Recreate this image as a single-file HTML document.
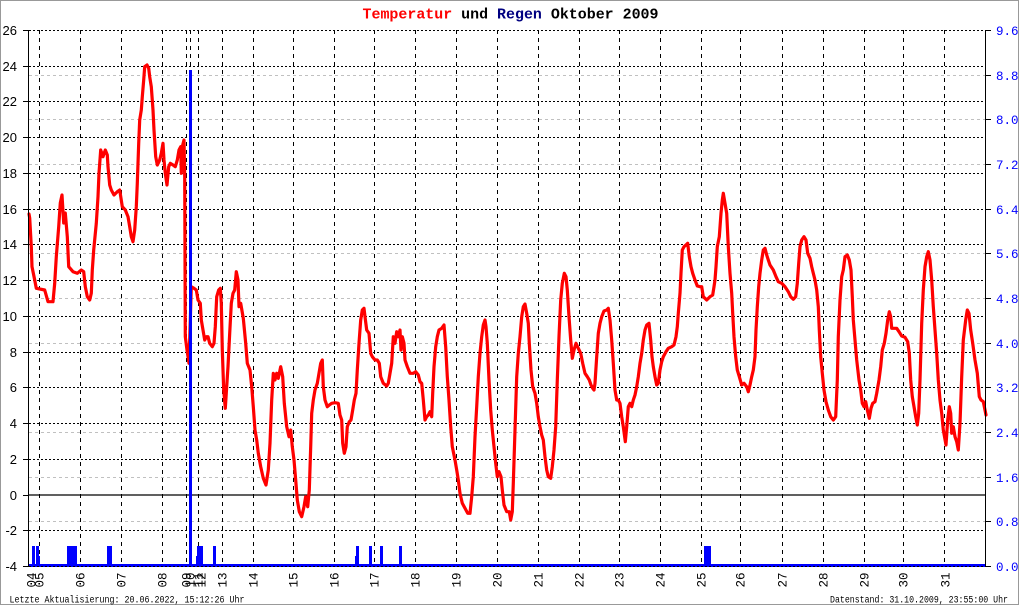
<!DOCTYPE html>
<html>
<head>
<meta charset="utf-8">
<style>
html,body{margin:0;padding:0;background:#fff;width:1020px;height:606px;overflow:hidden}
svg{display:block}
</style>
</head>
<body>
<svg width="1020" height="606" viewBox="0 0 1020 606" xmlns="http://www.w3.org/2000/svg">
<rect x="0" y="0" width="1020" height="606" fill="#fff"/>
<rect x="0.5" y="0.5" width="1018" height="604" fill="none" stroke="#999" stroke-width="1"/>

<!-- title -->
<text x="362.5" y="18.5" font-family="'Liberation Mono', monospace" font-size="15" font-weight="bold" textLength="296" lengthAdjust="spacingAndGlyphs"><tspan fill="#ff0000">Temperatur</tspan><tspan fill="#000"> und </tspan><tspan fill="#000080">Regen</tspan><tspan fill="#000"> Oktober 2009</tspan></text>

<!-- gray dashed (right axis grid) -->
<g stroke="#c0c0c0" stroke-width="1" stroke-dasharray="3,3" shape-rendering="crispEdges">
<line x1="29" x2="985" y1="75.5" y2="75.5"/>
<line x1="29" x2="985" y1="119.5" y2="119.5"/>
<line x1="29" x2="985" y1="164.5" y2="164.5"/>
<line x1="29" x2="985" y1="253.5" y2="253.5"/>
<line x1="29" x2="985" y1="298.5" y2="298.5"/>
<line x1="29" x2="985" y1="343.5" y2="343.5"/>
<line x1="29" x2="985" y1="432.5" y2="432.5"/>
<line x1="29" x2="985" y1="477.5" y2="477.5"/>
<line x1="29" x2="985" y1="521.5" y2="521.5"/>
</g>

<!-- black dotted horizontal grid -->
<g stroke="#000" stroke-width="1" stroke-dasharray="2,2" shape-rendering="crispEdges">
<line x1="29" x2="985" y1="30.5" y2="30.5"/>
<line x1="29" x2="985" y1="66.5" y2="66.5"/>
<line x1="29" x2="985" y1="101.5" y2="101.5"/>
<line x1="29" x2="985" y1="137.5" y2="137.5"/>
<line x1="29" x2="985" y1="173.5" y2="173.5"/>
<line x1="29" x2="985" y1="209.5" y2="209.5"/>
<line x1="29" x2="985" y1="244.5" y2="244.5"/>
<line x1="29" x2="985" y1="280.5" y2="280.5"/>
<line x1="29" x2="985" y1="316.5" y2="316.5"/>
<line x1="29" x2="985" y1="352.5" y2="352.5"/>
<line x1="29" x2="985" y1="387.5" y2="387.5"/>
<line x1="29" x2="985" y1="423.5" y2="423.5"/>
<line x1="29" x2="985" y1="459.5" y2="459.5"/>
<line x1="29" x2="985" y1="530.5" y2="530.5"/>
</g>

<!-- vertical dashed day lines -->
<g stroke="#000" stroke-width="1" stroke-dasharray="4,4" shape-rendering="crispEdges">
<line x1="39.5" x2="39.5" y1="30" y2="566"/>
<line x1="80.5" x2="80.5" y1="30" y2="566"/>
<line x1="121.5" x2="121.5" y1="30" y2="566"/>
<line x1="162.5" x2="162.5" y1="30" y2="566"/>
<line x1="186.5" x2="186.5" y1="30" y2="566"/>
<line x1="190.5" x2="190.5" y1="30" y2="566"/>
<line x1="198.5" x2="198.5" y1="30" y2="566"/>
<line x1="222.5" x2="222.5" y1="30" y2="566"/>
<line x1="253.5" x2="253.5" y1="30" y2="566"/>
<line x1="293.5" x2="293.5" y1="30" y2="566"/>
<line x1="334.5" x2="334.5" y1="30" y2="566"/>
<line x1="374.5" x2="374.5" y1="30" y2="566"/>
<line x1="415.5" x2="415.5" y1="30" y2="566"/>
<line x1="456.5" x2="456.5" y1="30" y2="566"/>
<line x1="497.5" x2="497.5" y1="30" y2="566"/>
<line x1="538.5" x2="538.5" y1="30" y2="566"/>
<line x1="579.5" x2="579.5" y1="30" y2="566"/>
<line x1="619.5" x2="619.5" y1="30" y2="566"/>
<line x1="660.5" x2="660.5" y1="30" y2="566"/>
<line x1="701.5" x2="701.5" y1="30" y2="566"/>
<line x1="740.5" x2="740.5" y1="30" y2="566"/>
<line x1="782.5" x2="782.5" y1="30" y2="566"/>
<line x1="823.5" x2="823.5" y1="30" y2="566"/>
<line x1="864.5" x2="864.5" y1="30" y2="566"/>
<line x1="903.5" x2="903.5" y1="30" y2="566"/>
<line x1="944.5" x2="944.5" y1="30" y2="566"/>
</g>

<!-- zero line -->
<line x1="29" x2="986" y1="495" y2="495" stroke="#000" stroke-width="1.2"/>

<!-- temperature -->
<polyline fill="none" stroke="#ff0000" stroke-width="3.2" stroke-linejoin="round" stroke-linecap="round" points="
29,214 29.7,218 31.3,246.7 32,266.7 34.7,280 36.3,288.3 44.7,290 48,301.7 53,301.7 54.7,283.3 56.3,256.7 58.7,226.7 60.3,203 62,195 63.7,223 65.3,213 67.3,236.7 68.7,266.7 73,271.7 77.3,273.3 81.3,270 83.7,271.7 85.3,286.7 87.3,296.7 89.7,300 91.3,293.3 92.3,270 93.7,250 96.3,223.3 98,196.7 99,173.3 100.7,150 103,156.7 105.3,150 107.3,155 108,166.7 109.7,185 111.3,190 114,195 117.3,191.7 119.7,190 122.3,206.7 125.3,210 128,216.7 129.7,226.7 131.3,236.7 133,241.7 134.7,230 136.3,206.7 137.3,183.3 138.7,143.3 139.7,120 141.3,110 142.3,96.7 143.7,80 144.7,66.7 147,65 148.7,68.3 149.7,76.7 151.3,86.7 153,110 154,130 155.7,156.7 157.3,165 159.7,160 161.3,153.3 163,143.3 164,160 165.3,173.3 167,185 168.7,166.7 170.3,163.3 173,165 175.3,166.7 177.3,160 179,150 180.7,146.7 181.3,173.3 182.3,146.7 184,140 184.7,176.7 185.3,336.7 187,350 189,363.3 191.3,286.7 194,288.3 196.3,290 198,300 200.3,303.3 201.3,320 203,330 204.7,340 206.3,336.7 208,336.7 209.7,343.3 212.3,346.7 214,343.3 215.3,326.7 216.7,296.7 218.7,290 220.3,288.3 221.3,303.3 222.3,350 223.7,390 225.3,408.3 226.7,386.7 228,366.7 229.7,333.3 231.3,303.3 233,293.3 234.7,290 236.3,271.7 238,280 239,306.7 240.7,303.3 243.3,318.3 245.7,343.3 247.3,363.3 250,370 251.7,386.7 253.3,406.7 255,430 256.7,440 258.3,453.3 260.7,466.7 263.3,478.3 266,485 268.3,470 270,443.3 271.7,400 273.3,373.3 275,380 276.7,373.3 278.3,378.3 280.7,366.7 282.7,376.7 284.3,403.3 286.7,426.7 289,436.7 290.7,430 292.3,446.7 294,460 295.7,480 297.3,500 299.3,511.7 301.7,516.7 304,506.7 305.7,496.7 307.7,506.7 309.3,490 310.7,446.7 311.7,413.3 313.3,400 315,390 317.3,383.3 319,373.3 320.7,363.3 322.3,360 323.3,386.7 325,400 327.3,406.7 329.3,405 331.7,403.3 335,402.7 338.3,403.3 340,415 341.7,420 342.7,443.3 344.3,453.3 346,446.7 347.3,426.7 349.3,421.7 351,420 352.7,410 354.3,400 356,393.3 357.3,370 359,343.3 360.7,320 362.3,310 364,308.3 365,316.7 366.7,330 369,333.3 370.7,353.3 372.3,356.7 375,360 377.3,360 379.3,363.3 380.7,376.7 383.3,383.3 386.7,386 388.3,383.3 390,373.3 391.7,363.3 393.3,336.7 395,343.3 396.7,331.7 398.3,336.7 400,330 401,350 402.3,336.7 404,343.3 405,360 407.3,366.7 410,373.3 413.3,373.3 415.7,371.7 418.3,375 420,381.7 421.7,383.3 423.3,400 425,420 426.7,416.7 428.3,415 430,411.7 431.7,416.7 432.7,393.3 434,366.7 435.7,346.7 437.3,336.7 439,330 441.7,328.3 444,325 445.7,346.7 447.3,376.7 449,400 450.7,426.7 452.3,446.7 455,460 456.7,470 458.3,480 460,493.3 462.3,503.3 465,508.3 467.7,513.3 470,513.3 471.7,496.7 473.3,476.7 475,436.7 476.7,406.7 478.3,376.7 480,353.3 481.7,336.7 483.3,325 485,320 486,326.7 487.3,343.3 489,380 490.7,410 492.3,430 494,446.7 495.7,463.3 497.3,476.7 499,471.7 501,476.7 502.3,490 504,505 506.7,511.7 509.3,511.7 510.7,520 512.3,511.7 513.3,483.3 515,430 516.7,376.7 518.3,353.3 520,336.7 521.7,316.7 523.3,306.7 525,304 526.7,313.3 528.3,323.3 529.3,343.3 531,370 532.7,386.7 535,393.3 536.7,403.3 538.3,416.7 540,426.7 541.7,435 543.3,440 545,456.7 546.7,470 548.3,476.7 550.7,478.3 552.3,466.7 554,450 555.7,426.7 557.3,380 559,336.7 560.7,300 562.3,283.3 564.3,273.3 566,276.7 567.3,290 569,316.7 570.7,340 572.3,358.3 574,350 576,343.3 578.3,348.3 580.7,353.3 582.7,363.3 585,373.3 587.3,376.7 589.3,380 591,385 592.7,388.3 594,390 595,383.3 596.7,356.7 598.3,333.3 600,323.3 601.7,316.7 604,311 606.7,310 608.3,308.3 610,320 611.7,340 613.3,363.3 615,390 616.7,400 618.3,400 620,403.3 621.7,416.7 623.3,426.7 625.3,441.7 626.7,426.7 628.3,406.7 630,403.3 631.7,406.7 633.3,400 635,395 636.7,386.7 638.3,376.7 640,363.3 641.7,353.3 643.3,340 645,330 646.7,325 649,323.3 650.7,340 652,356.7 653.3,366.7 655,376.7 656.7,385 658.3,383.3 660,370 661.7,361.7 663.3,356.7 666,351.7 668.3,348.3 671.7,346.7 674,345 676,336.7 677.3,326.7 678.3,313.3 680,293.3 681,273.3 682.3,250 684,246.7 686,245 687.7,243.3 689.3,256.7 691,266.7 692.7,273.3 695,280 697.3,286 700,286.7 701.7,286.7 703.3,296.7 706.7,300 710,296.7 712.7,295 714,286.7 715,280 716,266.7 717.3,246.7 719.3,236.7 721,213.3 722.3,200 723.3,193.3 725,203.3 726.7,213.3 728.3,246.7 730,273.3 731.7,293.3 732.7,313.3 734,336.7 735.7,356.7 737.3,370 739.3,376.7 741.7,385 744,383.3 746.7,386.7 748.3,391.7 750,385 751.7,376.7 753.3,370 755,356.7 756,330 757.3,306.7 758.7,286.7 760,273.3 761.7,260 763.3,250 765,248.3 766.7,255 768.3,260 770,265 773.3,270 776,276.7 778.3,281.7 781.7,283.3 785,286.7 788.3,291.7 790.7,296.7 793.3,299.3 795.7,296.7 797.3,283.3 798.7,263.3 800,246.7 801.7,240 804,236.7 806,240 807.7,253.3 810,258.3 811.7,266.7 813.3,273.3 815,280 816.7,290 818.3,306.7 819.3,330 820.7,356.7 822.3,373.3 824,390 826,401.7 828.3,410 830.7,416.7 833.3,420 835.7,416.7 837.3,380 838.3,336.7 840,300 841.7,276.7 843.3,270 845,256.7 847.3,255 849.3,260 851,270 852.3,296.7 853.3,320 855,340 856.7,360 859,380 860.7,390 862.3,403.3 864,406.7 865.7,401.7 867.3,410 869.3,418.3 871,408.3 872.7,403.3 875,401.7 876.7,393.3 879,380 880.7,366.7 882.3,350 884.3,343.3 886,333.3 887.7,320 889.3,311.7 890.7,316.7 891.7,328.3 893.3,328.3 896.7,328.3 899,331.7 901.7,336 905,337.3 907.7,341.7 909.3,353.3 910.7,380 912.3,396.7 914,406.7 915.7,416.7 917.3,425 918.7,413.3 920,380 921.7,323.3 923.3,290 925,266.7 926.7,256.7 928.3,251.7 930,260 931.7,280 933.3,306.7 935,330 936.7,353.3 938.3,380 940,400 941.7,413.3 943.3,430 946,445 947.7,420 949.3,406.7 950.7,413.3 951.7,433.3 953.3,426.7 955,436.7 956.7,441.7 958.3,450 960,423.3 961.7,376.7 963.3,340 965.7,320 967.3,310 969,313.3 970.7,330 972.7,343.3 975,360 977.3,373.3 979.3,396.7 981,400 983.3,401.7 985,410 986,415"/>

<!-- rain -->
<g fill="#0000ff" shape-rendering="crispEdges">
<rect x="29" y="564" width="957" height="3"/>
<rect x="32" y="546" width="3" height="20"/>
<rect x="36" y="546" width="3" height="20"/>
<rect x="39" y="556" width="1" height="10"/>
<rect x="67" y="546" width="10" height="20"/>
<rect x="107" y="546" width="5" height="20"/>
<rect x="189" y="70" width="3" height="496"/>
<rect x="196" y="556" width="1" height="10"/>
<rect x="197" y="546" width="6" height="20"/>
<rect x="213" y="546" width="3" height="20"/>
<rect x="355" y="556" width="1" height="10"/>
<rect x="356" y="546" width="3" height="20"/>
<rect x="369" y="546" width="3" height="20"/>
<rect x="380" y="546" width="3" height="20"/>
<rect x="399" y="546" width="3" height="20"/>
<rect x="704" y="546" width="7" height="20"/>
</g>
<line x1="29" x2="985" y1="566.5" y2="566.5" stroke="#000" stroke-width="1" stroke-dasharray="2,2" shape-rendering="crispEdges"/>

<!-- axes -->
<g stroke="#000" stroke-width="1" shape-rendering="crispEdges">
<line x1="28.5" x2="28.5" y1="30" y2="567"/>
<line x1="985.5" x2="985.5" y1="30" y2="567"/>
<line x1="23" x2="28" y1="30.5" y2="30.5"/>
<line x1="23" x2="28" y1="66.5" y2="66.5"/>
<line x1="23" x2="28" y1="101.5" y2="101.5"/>
<line x1="23" x2="28" y1="137.5" y2="137.5"/>
<line x1="23" x2="28" y1="173.5" y2="173.5"/>
<line x1="23" x2="28" y1="209.5" y2="209.5"/>
<line x1="23" x2="28" y1="244.5" y2="244.5"/>
<line x1="23" x2="28" y1="280.5" y2="280.5"/>
<line x1="23" x2="28" y1="316.5" y2="316.5"/>
<line x1="23" x2="28" y1="352.5" y2="352.5"/>
<line x1="23" x2="28" y1="387.5" y2="387.5"/>
<line x1="23" x2="28" y1="423.5" y2="423.5"/>
<line x1="23" x2="28" y1="459.5" y2="459.5"/>
<line x1="23" x2="28" y1="495.5" y2="495.5"/>
<line x1="23" x2="28" y1="530.5" y2="530.5"/>
<line x1="23" x2="28" y1="566.5" y2="566.5"/>
<line x1="986" x2="991" y1="30.5" y2="30.5"/>
<line x1="986" x2="991" y1="75.5" y2="75.5"/>
<line x1="986" x2="991" y1="119.5" y2="119.5"/>
<line x1="986" x2="991" y1="164.5" y2="164.5"/>
<line x1="986" x2="991" y1="209.5" y2="209.5"/>
<line x1="986" x2="991" y1="253.5" y2="253.5"/>
<line x1="986" x2="991" y1="298.5" y2="298.5"/>
<line x1="986" x2="991" y1="343.5" y2="343.5"/>
<line x1="986" x2="991" y1="387.5" y2="387.5"/>
<line x1="986" x2="991" y1="432.5" y2="432.5"/>
<line x1="986" x2="991" y1="477.5" y2="477.5"/>
<line x1="986" x2="991" y1="521.5" y2="521.5"/>
<line x1="986" x2="991" y1="566.5" y2="566.5"/>
</g>

<!-- left labels -->
<g font-family="'Liberation Sans', sans-serif" font-size="13" fill="#000" text-anchor="end">
<text x="17" y="35">26</text>
<text x="17" y="71">24</text>
<text x="17" y="106">22</text>
<text x="17" y="142">20</text>
<text x="17" y="178">18</text>
<text x="17" y="214">16</text>
<text x="17" y="249">14</text>
<text x="17" y="285">12</text>
<text x="17" y="321">10</text>
<text x="17" y="357">8</text>
<text x="17" y="392">6</text>
<text x="17" y="428">4</text>
<text x="17" y="464">2</text>
<text x="17" y="500">0</text>
<text x="17" y="535">-2</text>
<text x="17" y="571">-4</text>
</g>

<!-- right labels -->
<g font-family="'Liberation Mono', monospace" font-size="12.5" fill="#0000ff">
<text x="996" y="35">9.6</text>
<text x="996" y="80">8.8</text>
<text x="996" y="124">8.0</text>
<text x="996" y="169">7.2</text>
<text x="996" y="214">6.4</text>
<text x="996" y="258">5.6</text>
<text x="996" y="303">4.8</text>
<text x="996" y="348">4.0</text>
<text x="996" y="392">3.2</text>
<text x="996" y="437">2.4</text>
<text x="996" y="482">1.6</text>
<text x="996" y="526">0.8</text>
<text x="996" y="571">0.0</text>
</g>

<!-- day labels -->
<g font-family="'Liberation Mono', monospace" font-size="13" fill="#000">
<text transform="translate(35.5,587.5) rotate(-90)" textLength="15" lengthAdjust="spacingAndGlyphs">04</text>
<text transform="translate(43.5,587.5) rotate(-90)" textLength="15" lengthAdjust="spacingAndGlyphs">05</text>
<text transform="translate(84.5,587.5) rotate(-90)" textLength="15" lengthAdjust="spacingAndGlyphs">06</text>
<text transform="translate(125.5,587.5) rotate(-90)" textLength="15" lengthAdjust="spacingAndGlyphs">07</text>
<text transform="translate(166.5,587.5) rotate(-90)" textLength="15" lengthAdjust="spacingAndGlyphs">08</text>
<text transform="translate(190.5,587.5) rotate(-90)" textLength="15" lengthAdjust="spacingAndGlyphs">09</text>
<text transform="translate(194.5,587.5) rotate(-90)" textLength="15" lengthAdjust="spacingAndGlyphs">10</text>
<text transform="translate(202.5,587.5) rotate(-90)" textLength="15" lengthAdjust="spacingAndGlyphs">11</text>
<text transform="translate(205.5,587.5) rotate(-90)" textLength="15" lengthAdjust="spacingAndGlyphs">12</text>
<text transform="translate(226.5,587.5) rotate(-90)" textLength="15" lengthAdjust="spacingAndGlyphs">13</text>
<text transform="translate(257.5,587.5) rotate(-90)" textLength="15" lengthAdjust="spacingAndGlyphs">14</text>
<text transform="translate(297.5,587.5) rotate(-90)" textLength="15" lengthAdjust="spacingAndGlyphs">15</text>
<text transform="translate(338.5,587.5) rotate(-90)" textLength="15" lengthAdjust="spacingAndGlyphs">16</text>
<text transform="translate(378.5,587.5) rotate(-90)" textLength="15" lengthAdjust="spacingAndGlyphs">17</text>
<text transform="translate(419.5,587.5) rotate(-90)" textLength="15" lengthAdjust="spacingAndGlyphs">18</text>
<text transform="translate(460.5,587.5) rotate(-90)" textLength="15" lengthAdjust="spacingAndGlyphs">19</text>
<text transform="translate(501.5,587.5) rotate(-90)" textLength="15" lengthAdjust="spacingAndGlyphs">20</text>
<text transform="translate(542.5,587.5) rotate(-90)" textLength="15" lengthAdjust="spacingAndGlyphs">21</text>
<text transform="translate(583.5,587.5) rotate(-90)" textLength="15" lengthAdjust="spacingAndGlyphs">22</text>
<text transform="translate(623.5,587.5) rotate(-90)" textLength="15" lengthAdjust="spacingAndGlyphs">23</text>
<text transform="translate(664.5,587.5) rotate(-90)" textLength="15" lengthAdjust="spacingAndGlyphs">24</text>
<text transform="translate(705.5,587.5) rotate(-90)" textLength="15" lengthAdjust="spacingAndGlyphs">25</text>
<text transform="translate(744.5,587.5) rotate(-90)" textLength="15" lengthAdjust="spacingAndGlyphs">26</text>
<text transform="translate(786.5,587.5) rotate(-90)" textLength="15" lengthAdjust="spacingAndGlyphs">27</text>
<text transform="translate(827.5,587.5) rotate(-90)" textLength="15" lengthAdjust="spacingAndGlyphs">28</text>
<text transform="translate(868.5,587.5) rotate(-90)" textLength="15" lengthAdjust="spacingAndGlyphs">29</text>
<text transform="translate(907.5,587.5) rotate(-90)" textLength="15" lengthAdjust="spacingAndGlyphs">30</text>
<text transform="translate(949.5,587.5) rotate(-90)" textLength="15" lengthAdjust="spacingAndGlyphs">31</text>
</g>

<!-- footer -->
<g font-family="'Liberation Mono', monospace" font-size="10" fill="#000">
<text x="9.5" y="602.5" textLength="235" lengthAdjust="spacingAndGlyphs">Letzte Aktualisierung: 20.06.2022, 15:12:26 Uhr</text>
<text x="830" y="602.5" textLength="178" lengthAdjust="spacingAndGlyphs">Datenstand: 31.10.2009, 23:55:00 Uhr</text>
</g>
</svg>
</body>
</html>
